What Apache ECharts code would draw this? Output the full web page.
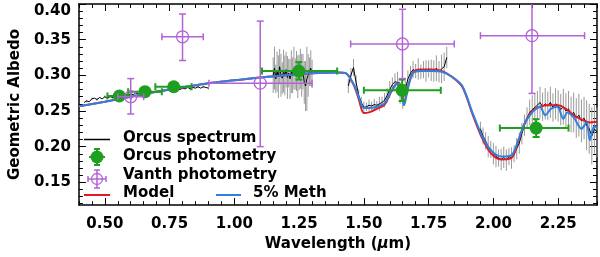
<!DOCTYPE html>
<html><head><meta charset="utf-8">
<script src="https://cdn.jsdelivr.net/npm/echarts@6/dist/echarts.min.js"></script>
<style>html,body{margin:0;padding:0;background:#fff}#c{width:600px;height:257px}</style>
</head><body><div id="c"></div>
<script>
// ---------- tick labels ----------
const xMajorTicks = [0.5, 0.75, 1.0, 1.25, 1.5, 1.75, 2.0, 2.25];
const xMinorTicks = [0.4,0.45,0.5,0.55,0.6,0.65,0.7,0.75,0.8,0.85,0.9,0.95,1.0,1.05,1.1,1.15,1.2,1.25,1.3,1.35,1.4,1.45,1.5,1.55,1.6,1.65,1.7,1.75,1.8,1.85,1.9,1.95,2.0,2.05,2.1,2.15,2.2,2.25,2.3,2.35,2.4];
const yMajorTicks = [0.15, 0.20, 0.25, 0.30, 0.35, 0.40];
const yMinorTicks = [0.12,0.13,0.14,0.15,0.16,0.17,0.18,0.19,0.20,0.21,0.22,0.23,0.24,0.25,0.26,0.27,0.28,0.29,0.30,0.31,0.32,0.33,0.34,0.35,0.36,0.37,0.38,0.39,0.40];

// ---------- Orcus spectrum segments: [wavelength, albedo, error] ----------
const specVis = [[0.42,0.262,0],[0.43,0.264,0.002],[0.44,0.263,0],[0.45,0.267,0.002],[0.46,0.268,0],[0.47,0.266,0.002],[0.48,0.269,0],[0.49,0.267,0],[0.50,0.270,0.002],[0.51,0.268,0],[0.52,0.270,0],[0.53,0.269,0.002],[0.54,0.271,0],[0.55,0.270,0],[0.56,0.272,0.002],[0.57,0.271,0],[0.58,0.273,0],[0.59,0.272,0.002],[0.60,0.274,0],[0.61,0.273,0],[0.62,0.275,0.002],[0.63,0.274,0],[0.64,0.276,0],[0.65,0.275,0.002],[0.66,0.277,0],[0.67,0.276,0],[0.68,0.277,0.002],[0.69,0.276,0],[0.70,0.278,0],[0.71,0.277,0.002],[0.72,0.279,0],[0.73,0.278,0],[0.74,0.280,0.002],[0.75,0.279,0],[0.76,0.280,0],[0.77,0.279,0.002],[0.78,0.281,0],[0.79,0.280,0],[0.80,0.282,0.002],[0.81,0.281,0],[0.82,0.283,0],[0.83,0.281,0.002],[0.84,0.283,0],[0.85,0.282,0],[0.86,0.284,0.002],[0.87,0.282,0],[0.88,0.284,0.002],[0.89,0.283,0],[0.90,0.282,0.002]];
const specJ = [[1.150,0.300,0.025],[1.155,0.310,0.030],[1.160,0.295,0.020],[1.165,0.305,0.028],[1.170,0.298,0.030],[1.175,0.312,0.025],[1.180,0.300,0.030],[1.185,0.296,0.022],[1.190,0.306,0.030],[1.195,0.300,0.028],[1.200,0.308,0.025],[1.205,0.297,0.030],[1.210,0.303,0.020],[1.215,0.295,0.028],[1.220,0.305,0.030],[1.225,0.300,0.025],[1.230,0.310,0.030],[1.235,0.302,0.022],[1.240,0.306,0.028],[1.245,0.298,0.030],[1.250,0.304,0.025],[1.255,0.309,0.028],[1.260,0.300,0.030],[1.265,0.305,0.025],[1.270,0.290,0.030],[1.275,0.285,0.035],[1.280,0.295,0.045],[1.285,0.300,0.030],[1.290,0.305,0.020],[1.295,0.310,0.025],[1.300,0.302,0.020]];
const specH = [[1.44,0.285,0.010],[1.45,0.300,0.010],[1.46,0.311,0.012],[1.47,0.290,0.010],[1.48,0.272,0.008],[1.49,0.262,0.008],[1.50,0.255,0.008],[1.51,0.256,0.006],[1.52,0.258,0.008],[1.53,0.257,0.006],[1.54,0.259,0.008],[1.55,0.258,0.006],[1.56,0.260,0.010],[1.57,0.262,0.008],[1.58,0.265,0.010],[1.59,0.272,0.010],[1.60,0.280,0.012],[1.61,0.287,0.010],[1.62,0.291,0.012],[1.63,0.290,0.015],[1.64,0.275,0.015],[1.65,0.268,0.015],[1.66,0.280,0.012],[1.67,0.295,0.012],[1.68,0.303,0.010],[1.69,0.308,0.012],[1.70,0.306,0.010],[1.71,0.309,0.015],[1.72,0.305,0.010],[1.73,0.308,0.012],[1.74,0.306,0.015],[1.75,0.309,0.012],[1.76,0.307,0.015],[1.77,0.306,0.015],[1.78,0.310,0.018],[1.79,0.305,0.015],[1.80,0.309,0.020],[1.81,0.312,0.020],[1.82,0.325,0.015]];
const specK = [[1.95,0.225,0.010],[1.96,0.215,0.012],[1.97,0.208,0.012],[1.98,0.200,0.015],[1.99,0.196,0.012],[2.00,0.190,0.015],[2.01,0.186,0.015],[2.02,0.184,0.012],[2.03,0.182,0.015],[2.04,0.185,0.015],[2.05,0.181,0.015],[2.06,0.186,0.012],[2.07,0.184,0.015],[2.08,0.190,0.012],[2.09,0.197,0.015],[2.10,0.205,0.015],[2.11,0.218,0.015],[2.12,0.230,0.015],[2.13,0.240,0.015],[2.14,0.248,0.018],[2.15,0.252,0.020],[2.16,0.255,0.020],[2.17,0.258,0.020],[2.18,0.262,0.022],[2.19,0.256,0.020],[2.20,0.260,0.022],[2.21,0.257,0.020],[2.22,0.262,0.022],[2.23,0.255,0.020],[2.24,0.260,0.022],[2.25,0.257,0.022],[2.26,0.252,0.022],[2.27,0.256,0.025],[2.28,0.250,0.025],[2.29,0.253,0.025],[2.30,0.245,0.025],[2.31,0.248,0.028],[2.32,0.240,0.028],[2.33,0.244,0.030],[2.34,0.236,0.030],[2.35,0.240,0.030],[2.36,0.230,0.035],[2.37,0.225,0.035],[2.38,0.215,0.040],[2.39,0.225,0.035],[2.40,0.220,0.035]];

// ---------- models ----------
const modelWave = [0.40,0.50,0.60,0.70,0.80,0.90,1.00,1.10,1.20,1.30,1.40,1.43,1.46,1.48,1.50,1.52,1.55,1.58,1.60,1.62,1.635,1.655,1.67,1.69,1.72,1.76,1.80,1.84,1.88,1.92,1.955,1.99,2.03,2.07,2.095,2.12,2.15,2.18,2.21,2.25,2.28,2.31,2.34,2.37,2.40];
const modelAlb  = [0.2565,0.263,0.270,0.277,0.283,0.289,0.293,0.297,0.300,0.303,0.304,0.303,0.287,0.267,0.247,0.248,0.253,0.259,0.273,0.286,0.290,0.262,0.283,0.304,0.308,0.308,0.306,0.298,0.284,0.245,0.213,0.191,0.182,0.184,0.206,0.232,0.250,0.256,0.258,0.258,0.253,0.244,0.238,0.234,0.235];
const methWave = [0.40,0.50,0.60,0.70,0.80,0.90,1.00,1.10,1.20,1.30,1.40,1.43,1.46,1.48,1.50,1.52,1.55,1.58,1.60,1.62,1.635,1.655,1.67,1.69,1.72,1.76,1.80,1.84,1.88,1.92,1.955,1.99,2.03,2.07,2.095,2.12,2.15,2.18,2.20,2.222,2.247,2.27,2.285,2.31,2.34,2.36,2.372,2.39,2.40];
const methAlb  = [0.2565,0.263,0.270,0.277,0.283,0.289,0.293,0.297,0.300,0.303,0.304,0.303,0.288,0.270,0.254,0.254,0.256,0.261,0.274,0.286,0.289,0.258,0.282,0.303,0.306,0.306,0.305,0.298,0.285,0.247,0.216,0.195,0.186,0.188,0.208,0.232,0.248,0.256,0.244,0.253,0.256,0.239,0.248,0.241,0.225,0.234,0.209,0.229,0.226];

// ---------- photometry: [x, y, xLow, xHigh, yLow, yHigh] ----------
const orcusPhot = [[0.556,0.271,0.51,0.60,0.267,0.275],[0.655,0.277,0.59,0.72,0.273,0.281],[0.766,0.284,0.695,0.835,0.280,0.288],[1.249,0.306,1.107,1.397,0.294,0.3185],[1.648,0.279,1.50,1.797,0.264,0.294],[2.165,0.226,2.025,2.29,0.2135,0.2385]];
const vanthPhot = [[0.60,0.270,0.55,0.65,0.2458,0.2954],[0.80,0.354,0.7205,0.880,0.3208,0.386],[1.10,0.289,0.902,1.300,0.200,0.376],[1.649,0.344,1.449,1.849,0.2954,0.3926],[2.149,0.3556,1.950,2.352,0.2746,0.436]];

const FONT = 'DejaVu Sans';
const GREEN = '#1f9f1f', PURPLE = '#b362d8', RED = '#e01b24', BLUE = '#2f80e0', GRAY = '#9a9a9a';
const lbl = {color:'#000', fontFamily:FONT, fontSize:15, fontWeight:'bold'};

function xAx(pos, ticks, len, line, labels, extra) {
  return Object.assign({
    type:'value', position:pos, min:0.4, max:2.4, gridIndex:0,
    axisLine:{show:line, onZero:false, lineStyle:{color:'#000', width:1.5}},
    axisTick:{show:true, inside:true, length:len, customValues:ticks, lineStyle:{color:'#000', width:1}},
    axisLabel:labels ? Object.assign({show:true, margin:12, customValues:ticks, formatter:v=>v.toFixed(2)}, lbl) : {show:false},
    splitLine:{show:false}
  }, extra||{});
}
function yAx(pos, ticks, len, line, labels, extra) {
  return Object.assign({
    type:'value', position:pos, min:0.118, max:0.40, gridIndex:0,
    axisLine:{show:line, onZero:false, lineStyle:{color:'#000', width:1.5}},
    axisTick:{show:true, inside:true, length:len, customValues:ticks, lineStyle:{color:'#000', width:1}},
    axisLabel:labels ? Object.assign({show:true, margin:8, customValues:ticks, verticalAlignMaxLabel:'top', formatter:v=>v.toFixed(2)}, lbl) : {show:false},
    splitLine:{show:false}
  }, extra||{});
}

function pairs(w, a) { return w.map((x,i)=>[x, a[i]]); }

function specLine(seg) {
  return {type:'line', data:seg.map(d=>[d[0],d[1]]), showSymbol:false, symbol:'none', z:3,
    lineStyle:{color:'#000', width:1}, silent:true, animation:false};
}
function specErr(seg) {
  return {type:'custom', data:seg, z:2, animation:false, silent:true, clip:true,
    encode:{x:0, y:1},
    renderItem:(p, api)=>{
      const x=api.value(0), y=api.value(1), e=api.value(2);
      if (!e) return null;
      const a=api.coord([x,y-e]), b=api.coord([x,y+e]);
      return {type:'line', shape:{x1:a[0],y1:a[1],x2:b[0],y2:b[1]}, style:{stroke:GRAY, lineWidth:1}};
    }};
}
function photSeries(data, color, filled, z) {
  return {type:'custom', data:data, z:z, animation:false, silent:true, clip:true,
    encode:{x:0, y:1},
    renderItem:(p, api)=>{
      const x=api.value(0), y=api.value(1);
      const c=api.coord([x,y]), l=api.coord([api.value(2),y]), r=api.coord([api.value(3),y]);
      const b=api.coord([x,api.value(4)]), t=api.coord([x,api.value(5)]);
      const lw = filled ? 2 : 1.5, cap = 3.5;
      const st = {stroke:color, lineWidth:lw};
      const ch = [
        {type:'line', shape:{x1:l[0],y1:c[1],x2:r[0],y2:c[1]}, style:st},
        {type:'line', shape:{x1:c[0],y1:t[1],x2:c[0],y2:b[1]}, style:st},
        {type:'line', shape:{x1:l[0],y1:c[1]-cap,x2:l[0],y2:c[1]+cap}, style:st},
        {type:'line', shape:{x1:r[0],y1:c[1]-cap,x2:r[0],y2:c[1]+cap}, style:st},
        {type:'line', shape:{x1:c[0]-cap,y1:t[1],x2:c[0]+cap,y2:t[1]}, style:st},
        {type:'line', shape:{x1:c[0]-cap,y1:b[1],x2:c[0]+cap,y2:b[1]}, style:st},
        filled ? {type:'circle', shape:{cx:c[0],cy:c[1],r:6.5}, style:{fill:color}}
               : {type:'circle', shape:{cx:c[0],cy:c[1],r:6}, style:{fill:'none', stroke:color, lineWidth:1.3}}
      ];
      return {type:'group', children:ch};
    }};
}

// legend graphic
const txt = (x,y,s)=>({type:'text', x:x, y:y, style:{text:s, fill:'#000', font:'bold 15px "DejaVu Sans"', textVerticalAlign:'middle'}});
const ln = (x1,x2,y,c,w)=>({type:'line', shape:{x1:x1,y1:y,x2:x2,y2:y}, style:{stroke:c, lineWidth:w}});
const legend = [
  ln(84,110,139.5,'#000',1.5), txt(123,138,'Orcus spectrum'),
  {type:'circle', shape:{cx:97,cy:157,r:6.5}, style:{fill:GREEN}},
  ln(89,105,157,GREEN,2),
  {type:'line', shape:{x1:97,y1:149,x2:97,y2:165}, style:{stroke:GREEN,lineWidth:2}},
  ln(94,100,149,GREEN,2), ln(94,100,165,GREEN,2),
  txt(123,156.5,'Orcus photometry'),
  {type:'circle', shape:{cx:97,cy:179,r:5.5}, style:{fill:'none', stroke:PURPLE, lineWidth:1.3}},
  ln(88,106,179,PURPLE,1.5),
  {type:'line', shape:{x1:97,y1:170,x2:97,y2:188}, style:{stroke:PURPLE,lineWidth:1.5}},
  {type:'line', shape:{x1:88,y1:176,x2:88,y2:182}, style:{stroke:PURPLE,lineWidth:1.5}},
  {type:'line', shape:{x1:106,y1:176,x2:106,y2:182}, style:{stroke:PURPLE,lineWidth:1.5}},
  ln(94,100,170,PURPLE,1.5), ln(94,100,188,PURPLE,1.5),
  txt(123,175,'Vanth photometry'),
  ln(84,110,195,RED,2), txt(123,193.5,'Model'),
  ln(216,241,195,BLUE,2), txt(253,193.5,'5% Meth')
];

const chart = echarts.init(document.getElementById('c'));
chart.setOption({
  animation:false,
  backgroundColor:'#fff',
  grid:{left:71, right:3, top:4, bottom:50, containLabel:false},
  xAxis:[
    xAx('bottom', xMajorTicks, 7, true, true, {
      name:'Wavelength ({i|μ}m)', nameLocation:'middle', nameGap:31,
      nameTextStyle:Object.assign({rich:{i:{fontStyle:'italic', fontFamily:FONT, fontSize:15, fontWeight:'bold', color:'#000'}}}, lbl)}),
    xAx('bottom', xMinorTicks, 4, false, false),
    xAx('top', xMajorTicks, 7, true, false),
    xAx('top', xMinorTicks, 4, false, false)
  ],
  yAxis:[
    yAx('left', yMajorTicks, 7, true, true, {
      name:'Geometric Albedo', nameLocation:'middle', nameGap:50, nameRotate:90,
      nameTextStyle:Object.assign({}, lbl)}),
    yAx('left', yMinorTicks, 4, false, false),
    yAx('right', yMajorTicks, 7, true, false),
    yAx('right', yMinorTicks, 4, false, false)
  ],
  series:[
    specErr(specVis), specErr(specJ), specErr(specH), specErr(specK),
    specLine(specVis), specLine(specJ), specLine(specH), specLine(specK),
    {type:'line', data:pairs(modelWave, modelAlb), smooth:0.3, showSymbol:false, symbol:'none', z:4,
      lineStyle:{color:RED, width:2}, silent:true},
    {type:'line', data:pairs(methWave, methAlb), smooth:0.3, showSymbol:false, symbol:'none', z:5,
      lineStyle:{color:BLUE, width:2}, silent:true},
    photSeries(orcusPhot, GREEN, true, 6),
    photSeries(vanthPhot, PURPLE, false, 7)
  ],
  graphic:legend
});
</script></body></html>
